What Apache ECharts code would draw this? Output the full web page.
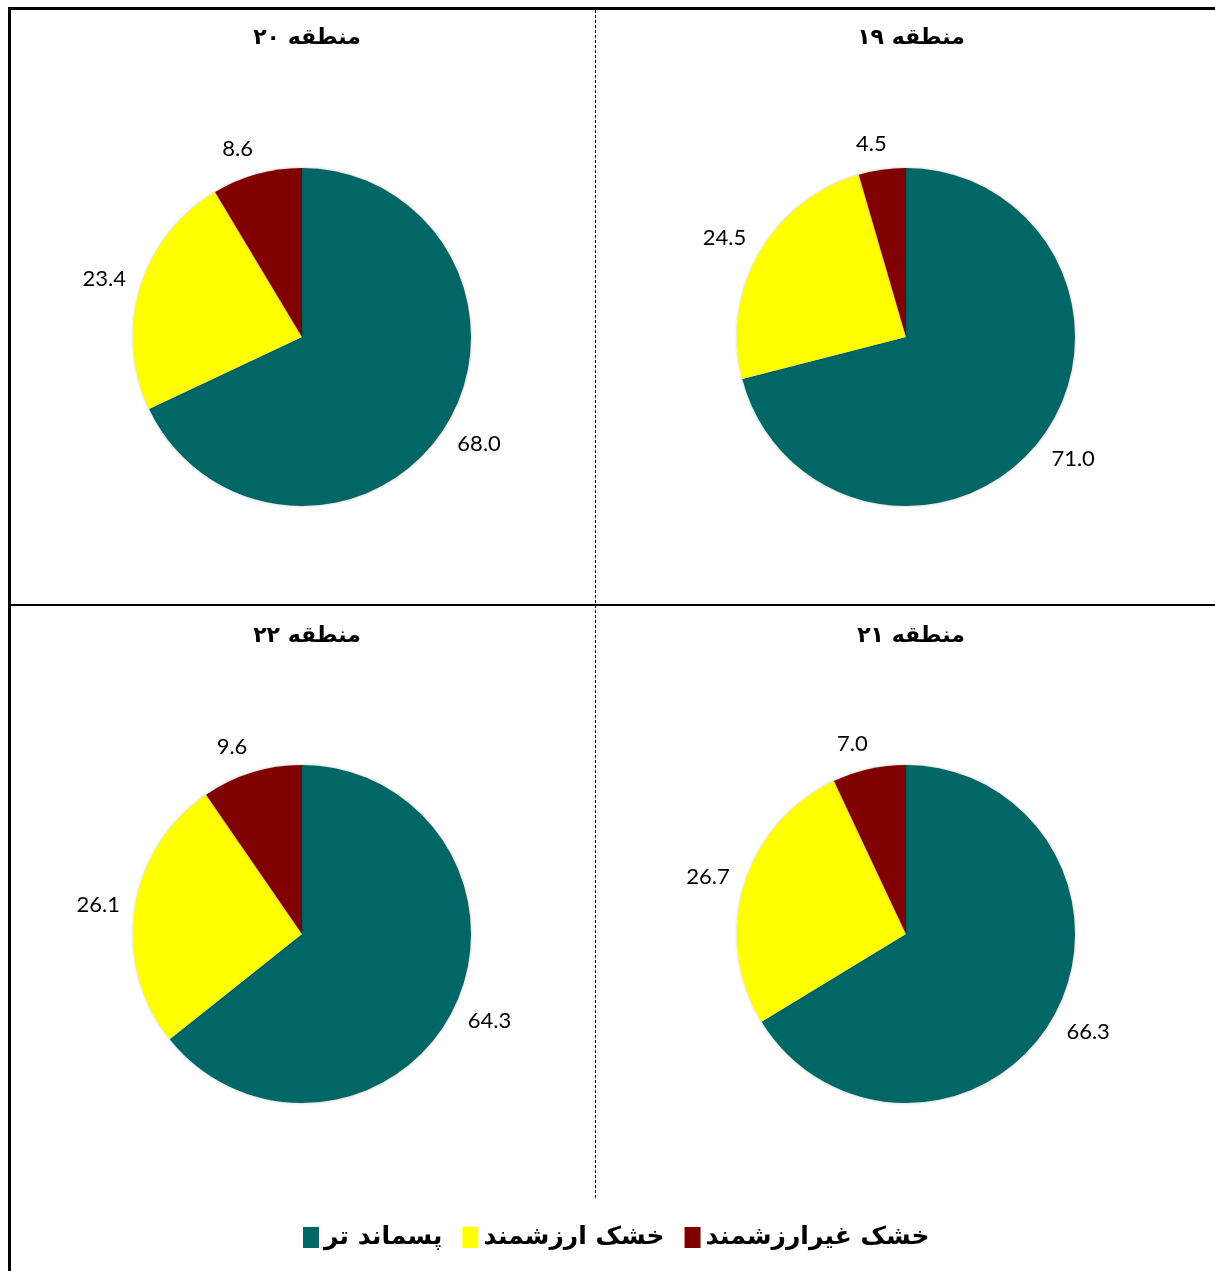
<!DOCTYPE html>
<html>
<head>
<meta charset="utf-8">
<script src="https://cdn.jsdelivr.net/npm/echarts@6/dist/echarts.min.js"></script>
<style>
  html, body { margin: 0; padding: 0; background: #ffffff; }
  #chart { width: 1215px; height: 1271px; }
</style>
</head>
<body>
<div id="chart"></div>
<script>
// Waste composition (%) per district
const categories = ['پسماند تر', 'خشک ارزشمند', 'خشک غیرارزشمند'];
const colors = ['#006666', '#ffff00', '#800000'];

const districtNames = ['منطقه ۱۹', 'منطقه ۲۰', 'منطقه ۲۱', 'منطقه ۲۲'];
const district19 = [71.0, 24.5, 4.5];
const district20 = [68.0, 23.4, 8.6];
const district21 = [66.3, 26.7, 7.0];
const district22 = [64.3, 26.1, 9.6];

const districtValues = [district19, district20, district21, district22];
// panel centres: 19 top-right, 20 top-left, 21 bottom-right, 22 bottom-left
const panelCenters = [[906, 337], [302, 337], [906, 934], [302, 934]];
const pieRadius = 169;

const chart = echarts.init(document.getElementById('chart'), null, { renderer: 'canvas' });

// Place each value label just beyond the rim, pushed outward by its own box size
function placeLabel(params) {
  const pts = params.labelLinePoints;
  if (!pts) return {};
  const vx = pts[1][0] - pts[0][0];
  const vy = pts[1][1] - pts[0][1];
  const len = Math.sqrt(vx * vx + vy * vy) || 1;
  const ux = vx / len, uy = vy / len;
  const w = params.labelRect.width, h = params.labelRect.height;
  const sx = Math.max(-1, Math.min(1, ux * 4));
  const sy = Math.max(-1, Math.min(1, uy * 1.4));
  return {
    x: pts[1][0] + sx * w / 2,
    y: pts[1][1] + sy * h / 2,
    align: 'center',
    verticalAlign: 'middle'
  };
}

const series = districtValues.map((vals, i) => ({
  type: 'pie',
  name: districtNames[i],
  center: panelCenters[i],
  radius: pieRadius,
  startAngle: 90,
  clockwise: true,
  avoidLabelOverlap: false,
  silent: true,
  itemStyle: {
    borderWidth: 0,
    shadowBlur: 3,
    shadowColor: 'rgba(0,0,0,0.25)'
  },
  label: {
    show: true,
    position: 'outside',
    formatter: p => p.value.toFixed(1),
    fontFamily: 'Lato',
    fontSize: 22,
    color: '#000000'
  },
  labelLine: {
    show: true,
    length: 15,
    length2: 0,
    lineStyle: { opacity: 0, width: 0 }
  },
  labelLayout: placeLabel,
  data: categories.map((c, k) => ({
    name: c,
    value: vals[k],
    itemStyle: { color: colors[k] }
  }))
}));

const titles = districtNames.map((t, i) => ({
  text: t,
  left: panelCenters[i][0],
  top: 22,
  textAlign: 'center',
  textStyle: {
    fontFamily: 'DejaVu Sans',
    fontWeight: 'bold',
    fontSize: 22,
    color: '#000000'
  }
}));
titles[2].top = 620;
titles[3].top = 620;

const option = {
  backgroundColor: '#ffffff',
  animation: false,
  title: titles,
  legend: {
    data: categories,
    left: 298,
    top: 1220,
    orient: 'horizontal',
    icon: 'rect',
    itemWidth: 16,
    itemHeight: 21,
    itemGap: 20,
    selectedMode: false,
    textStyle: {
      fontFamily: 'DejaVu Sans',
      fontWeight: 'bold',
      fontSize: 25,
      color: '#000000',
      padding: [0, 0, 0, 0]
    }
  },
  graphic: [
    // outer frame (top and left)
    { type: 'line', shape: { x1: 8, y1: 8.5, x2: 1215, y2: 8.5 }, style: { stroke: '#000', lineWidth: 3 } },
    { type: 'line', shape: { x1: 9.5, y1: 7, x2: 9.5, y2: 1271 }, style: { stroke: '#000', lineWidth: 3 } },
    // horizontal divider between rows
    { type: 'line', shape: { x1: 9, y1: 605, x2: 1215, y2: 605 }, style: { stroke: '#000', lineWidth: 2 } },
    // dashed vertical divider between columns
    { type: 'line', shape: { x1: 595.5, y1: 10, x2: 595.5, y2: 1200 }, style: { stroke: '#000', lineWidth: 1, lineDash: [3, 2] } }
  ],
  series: series
};

chart.setOption(option);
</script>
</body>
</html>
